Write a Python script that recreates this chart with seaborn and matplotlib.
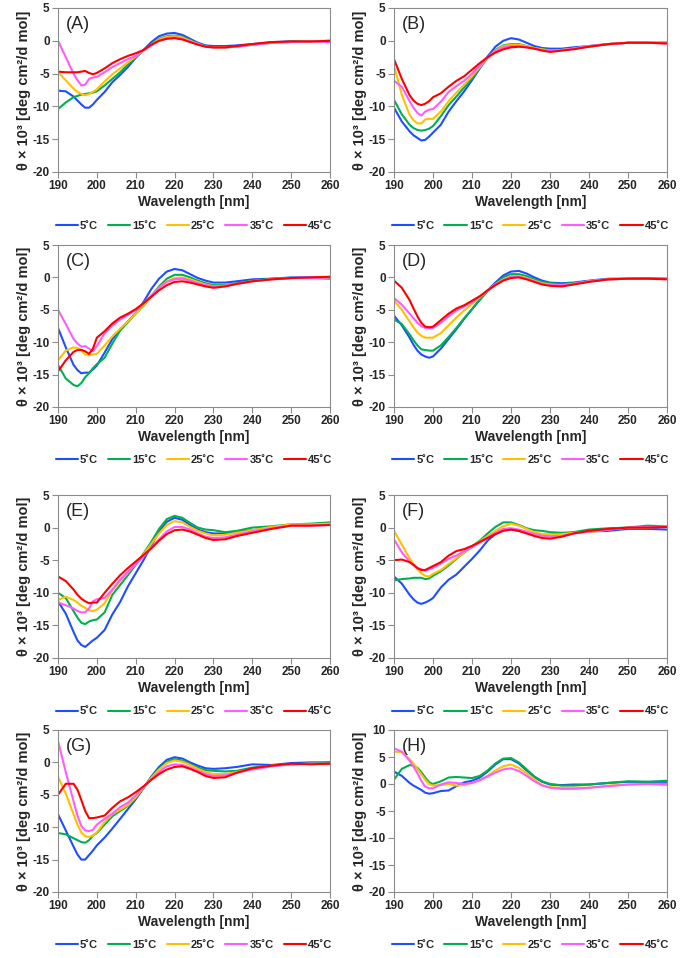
import pandas as pd
import matplotlib.pyplot as plt
from matplotlib.lines import Line2D
import seaborn as sns

sns.set_theme(style='white')
plt.rcParams['font.family'] = ['Liberation Sans', 'DejaVu Sans']
plt.rcParams['font.weight'] = 'bold'
plt.rcParams['axes.unicode_minus'] = False

# wavelength grid (nm)
wl = [190, 192, 194, 195, 196, 197, 198, 199, 200, 202, 204, 206, 208, 210, 212, 214,
      216, 218, 220, 222, 224, 226, 228, 230, 233, 236, 240, 245, 250, 255, 260]

temps = ['5˚C', '15˚C', '25˚C', '35˚C', '45˚C']
colors = ['#1F4EFF', '#00B050', '#FFC000', '#FF5CFF', '#FF0000']

# (A)
A_05 = [-7.6, -7.7, -8.5, -9.1, -9.7, -10.2, -10.2, -9.7, -9.0, -7.8, -6.3, -5.2, -4.0, -2.6, -1.4, -0.2, 0.7, 1.1, 1.2, 0.9, 0.3, -0.3, -0.7, -0.8, -0.8, -0.7, -0.5, -0.2, -0.1, -0.1, 0.0]
A_15 = [-10.4, -9.4, -8.6, -8.4, -8.2, -8.1, -8.0, -7.9, -7.7, -6.8, -5.8, -4.8, -3.6, -2.5, -1.5, -0.5, 0.3, 0.7, 0.8, 0.6, 0.1, -0.4, -0.8, -1.0, -1.0, -0.9, -0.6, -0.3, -0.1, -0.1, -0.1]
A_25 = [-4.8, -6.0, -7.3, -7.8, -8.1, -8.3, -8.1, -7.8, -7.4, -6.2, -5.1, -4.2, -3.3, -2.4, -1.5, -0.6, 0.2, 0.6, 0.7, 0.5, 0.0, -0.5, -0.9, -1.0, -1.0, -0.9, -0.6, -0.3, -0.2, -0.1, -0.1]
A_35 = [0.0, -2.5, -5.0, -6.0, -6.8, -6.7, -5.8, -5.6, -5.5, -4.8, -4.0, -3.4, -2.8, -2.3, -1.5, -0.7, 0.0, 0.4, 0.5, 0.3, -0.1, -0.5, -0.9, -1.0, -1.0, -0.9, -0.6, -0.3, -0.2, -0.1, -0.2]
A_45 = [-4.7, -4.8, -4.8, -4.8, -4.7, -4.6, -4.9, -5.1, -4.9, -4.2, -3.4, -2.8, -2.3, -1.9, -1.4, -0.6, 0.0, 0.3, 0.4, 0.2, -0.2, -0.6, -0.9, -1.0, -1.0, -0.8, -0.5, -0.2, -0.1, -0.1, 0.0]

# (B)
B_05 = [-10.2, -12.3, -13.8, -14.4, -14.8, -15.2, -15.1, -14.6, -14.0, -12.8, -10.8, -9.2, -7.7, -6.0, -4.2, -2.4, -0.9, 0.0, 0.4, 0.2, -0.3, -0.8, -1.1, -1.2, -1.2, -1.0, -0.8, -0.5, -0.3, -0.3, -0.3]
B_15 = [-9.0, -11.2, -12.8, -13.3, -13.6, -13.7, -13.6, -13.4, -13.0, -11.5, -9.8, -8.5, -7.1, -5.7, -4.1, -2.6, -1.4, -0.7, -0.5, -0.5, -0.8, -1.1, -1.3, -1.4, -1.4, -1.2, -0.9, -0.5, -0.3, -0.3, -0.3]
B_25 = [-3.8, -8.2, -11.3, -12.1, -12.6, -12.6, -12.0, -11.9, -11.9, -10.8, -9.2, -7.9, -6.7, -5.4, -4.0, -2.6, -1.5, -0.8, -0.6, -0.6, -0.8, -1.1, -1.3, -1.5, -1.4, -1.2, -0.8, -0.5, -0.3, -0.3, -0.4]
B_35 = [-6.1, -7.0, -9.2, -10.2, -11.0, -11.4, -10.8, -10.5, -10.4, -9.3, -7.8, -6.9, -6.1, -5.0, -3.8, -2.6, -1.6, -1.0, -0.8, -0.8, -1.0, -1.2, -1.4, -1.5, -1.4, -1.2, -0.8, -0.5, -0.3, -0.3, -0.4]
B_45 = [-2.8, -5.8, -8.3, -9.1, -9.6, -9.8, -9.6, -9.2, -8.6, -8.0, -7.0, -6.1, -5.4, -4.4, -3.4, -2.5, -1.8, -1.3, -1.0, -0.9, -1.0, -1.2, -1.5, -1.7, -1.5, -1.3, -0.9, -0.5, -0.3, -0.3, -0.4]

# (C)
C_05 = [-7.8, -10.8, -13.5, -14.3, -14.8, -14.7, -14.7, -14.2, -13.6, -11.6, -9.5, -8.0, -6.8, -5.5, -3.8, -1.8, -0.2, 0.9, 1.3, 1.1, 0.5, -0.1, -0.5, -0.8, -0.8, -0.6, -0.3, -0.2, 0.0, 0.0, 0.0]
C_15 = [-13.5, -15.6, -16.6, -16.8, -16.3, -15.4, -14.8, -14.0, -13.4, -12.4, -10.2, -8.2, -6.9, -5.6, -4.4, -2.9, -1.4, -0.2, 0.4, 0.4, 0.0, -0.5, -0.9, -1.2, -1.2, -0.9, -0.5, -0.2, -0.1, -0.1, -0.2]
C_25 = [-12.8, -11.3, -10.8, -10.9, -11.2, -11.9, -12.0, -11.9, -11.8, -10.5, -9.1, -7.9, -6.8, -5.6, -4.3, -2.9, -1.6, -0.6, -0.1, 0.0, -0.3, -0.7, -1.1, -1.4, -1.3, -1.0, -0.6, -0.3, -0.1, -0.1, 0.0]
C_35 = [-5.0, -7.2, -9.5, -10.2, -10.7, -10.6, -11.0, -11.4, -10.6, -8.6, -7.4, -6.5, -5.8, -5.0, -4.0, -2.8, -1.6, -0.7, -0.3, -0.2, -0.5, -0.9, -1.2, -1.4, -1.3, -1.0, -0.6, -0.3, -0.1, -0.1, 0.0]
C_45 = [-14.5, -12.8, -11.5, -11.2, -11.2, -11.4, -11.8, -11.0, -9.3, -8.3, -7.1, -6.2, -5.6, -4.9, -4.0, -3.0, -2.0, -1.2, -0.7, -0.6, -0.8, -1.1, -1.4, -1.6, -1.4, -1.0, -0.6, -0.3, -0.1, 0.0, 0.1]

# (D)
D_05 = [-5.9, -7.4, -9.3, -10.4, -11.3, -11.9, -12.2, -12.4, -12.2, -11.0, -9.5, -8.0, -6.4, -4.9, -3.4, -2.0, -0.8, 0.3, 0.9, 1.0, 0.6, 0.0, -0.5, -0.8, -0.9, -0.8, -0.5, -0.2, -0.2, -0.1, -0.2]
D_15 = [-6.5, -7.2, -8.8, -9.7, -10.5, -11.1, -11.2, -11.3, -11.3, -10.5, -9.2, -7.8, -6.3, -4.9, -3.5, -2.1, -1.0, 0.0, 0.5, 0.5, 0.2, -0.3, -0.7, -0.9, -1.0, -0.9, -0.6, -0.3, -0.2, -0.2, -0.2]
D_25 = [-3.6, -5.0, -6.8, -7.7, -8.5, -9.0, -9.3, -9.3, -9.3, -8.6, -7.4, -6.2, -5.1, -4.1, -3.1, -2.0, -1.1, -0.3, 0.2, 0.2, -0.1, -0.5, -0.9, -1.1, -1.2, -1.0, -0.6, -0.3, -0.2, -0.2, -0.2]
D_35 = [-3.2, -4.2, -5.6, -6.3, -7.0, -7.5, -7.8, -7.9, -7.8, -7.0, -6.0, -5.1, -4.5, -3.8, -3.0, -2.0, -1.1, -0.4, 0.1, 0.1, -0.2, -0.6, -1.0, -1.2, -1.2, -1.0, -0.6, -0.3, -0.2, -0.2, -0.2]
D_45 = [-0.5, -1.6, -3.5, -4.8, -6.0, -7.0, -7.6, -7.7, -7.6, -6.6, -5.6, -4.8, -4.3, -3.6, -2.9, -2.0, -1.2, -0.5, -0.1, 0.0, -0.3, -0.7, -1.1, -1.3, -1.4, -1.1, -0.7, -0.3, -0.2, -0.2, -0.3]

# (E)
E_05 = [-11.3, -13.2, -16.0, -17.3, -18.0, -18.3, -17.8, -17.3, -16.9, -15.7, -13.3, -11.4, -9.0, -7.0, -5.0, -2.8, -0.6, 0.9, 1.5, 1.2, 0.4, -0.3, -0.7, -0.9, -0.9, -0.6, -0.4, 0.0, 0.4, 0.4, 0.6]
E_15 = [-10.0, -10.8, -12.8, -13.8, -14.6, -14.8, -14.4, -14.2, -14.1, -13.0, -10.3, -8.8, -7.3, -5.7, -4.0, -2.2, -0.2, 1.3, 1.8, 1.5, 0.7, 0.0, -0.3, -0.4, -0.7, -0.5, 0.0, 0.2, 0.5, 0.6, 0.8]
E_25 = [-11.1, -10.6, -11.1, -11.5, -12.0, -12.3, -12.7, -12.8, -12.6, -11.6, -9.6, -8.2, -6.9, -5.5, -4.1, -2.5, -0.9, 0.4, 1.0, 0.8, 0.1, -0.5, -0.9, -1.2, -1.1, -0.8, -0.4, 0.1, 0.5, 0.5, 0.6]
E_35 = [-11.5, -11.9, -12.4, -12.8, -13.0, -13.0, -12.4, -11.3, -11.0, -10.8, -9.5, -8.0, -6.8, -5.6, -4.4, -3.1, -1.8, -0.6, 0.1, 0.1, -0.3, -0.9, -1.4, -1.6, -1.5, -1.1, -0.6, -0.1, 0.3, 0.3, 0.4]
E_45 = [-7.5, -8.2, -9.5, -10.3, -10.9, -11.3, -11.6, -11.5, -11.5, -10.0, -8.6, -7.3, -6.2, -5.2, -4.2, -3.2, -2.0, -1.0, -0.4, -0.3, -0.6, -1.1, -1.6, -1.9, -1.8, -1.3, -0.8, -0.2, 0.3, 0.3, 0.4]

# (F)
F_05 = [-7.5, -8.6, -10.3, -11.0, -11.5, -11.7, -11.5, -11.2, -10.8, -9.2, -8.0, -7.2, -6.0, -4.8, -3.5, -2.0, -1.0, -0.4, -0.3, -0.5, -0.8, -1.0, -1.1, -1.1, -1.0, -0.8, -0.6, -0.5, -0.2, -0.2, -0.3]
F_15 = [-8.1, -7.9, -7.8, -7.7, -7.7, -7.7, -7.9, -7.8, -7.4, -6.7, -5.8, -4.8, -3.8, -2.9, -2.0, -0.9, 0.1, 0.8, 0.8, 0.4, -0.1, -0.4, -0.5, -0.7, -0.8, -0.7, -0.3, -0.1, 0.0, 0.3, 0.2]
F_25 = [-0.5, -2.6, -4.7, -5.6, -6.4, -7.0, -7.4, -7.5, -7.1, -6.5, -5.6, -4.7, -3.8, -3.0, -2.1, -1.3, -0.5, 0.2, 0.6, 0.3, -0.2, -0.7, -1.0, -1.1, -1.0, -0.8, -0.7, -0.3, 0.0, 0.0, 0.2]
F_35 = [-1.8, -3.8, -5.2, -5.8, -6.2, -6.4, -6.6, -6.4, -6.2, -5.5, -4.8, -4.3, -3.6, -3.0, -2.3, -1.5, -0.8, -0.2, -0.1, -0.3, -0.6, -1.0, -1.3, -1.4, -1.3, -0.9, -0.6, -0.3, 0.0, 0.1, 0.1]
F_45 = [-5.0, -4.9, -5.3, -5.7, -6.2, -6.5, -6.5, -6.2, -5.9, -5.3, -4.3, -3.6, -3.3, -2.8, -2.2, -1.6, -1.0, -0.5, -0.3, -0.5, -0.9, -1.3, -1.6, -1.7, -1.4, -0.9, -0.5, -0.2, 0.0, 0.0, 0.1]

# (G)
G_05 = [-8.0, -10.5, -13.0, -14.2, -15.0, -15.0, -14.3, -13.6, -12.8, -11.6, -10.2, -8.7, -7.2, -5.7, -4.0, -2.2, -0.7, 0.4, 0.8, 0.6, 0.0, -0.5, -0.9, -1.0, -0.9, -0.7, -0.3, -0.4, -0.1, 0.0, 0.0]
G_15 = [-10.9, -11.1, -11.7, -12.0, -12.3, -12.4, -12.0, -11.3, -10.9, -9.6, -8.3, -7.5, -6.7, -5.5, -3.9, -2.3, -1.0, 0.1, 0.5, 0.3, -0.3, -0.8, -1.2, -1.3, -1.4, -1.3, -0.8, -0.5, -0.3, -0.2, 0.0]
G_25 = [-2.2, -4.8, -8.0, -9.6, -10.8, -11.4, -11.5, -11.3, -10.8, -9.2, -8.0, -7.3, -6.6, -5.4, -3.9, -2.4, -1.1, -0.1, 0.3, 0.1, -0.4, -1.0, -1.5, -1.8, -1.8, -1.5, -1.0, -0.5, -0.3, -0.2, -0.3]
G_35 = [3.3, -1.5, -6.0, -8.2, -9.8, -10.5, -10.6, -10.4, -9.6, -8.7, -7.9, -6.9, -6.2, -5.1, -3.8, -2.6, -1.5, -0.6, -0.3, -0.4, -0.8, -1.3, -1.8, -2.1, -2.0, -1.6, -1.1, -0.6, -0.3, -0.2, -0.2]
G_45 = [-5.0, -3.3, -3.3, -4.2, -5.8, -7.5, -8.6, -8.6, -8.5, -8.2, -7.0, -6.0, -5.4, -4.6, -3.7, -2.7, -1.8, -1.1, -0.7, -0.6, -1.0, -1.5, -2.1, -2.4, -2.3, -1.6, -0.9, -0.5, -0.2, -0.3, -0.2]

# (H)  no 45 C trace in this panel
H_05 = [2.3, 1.5, 0.2, -0.3, -0.7, -1.1, -1.6, -1.8, -1.7, -1.3, -1.2, -0.4, 0.3, 0.6, 1.2, 2.3, 3.6, 4.6, 4.6, 3.8, 2.5, 1.3, 0.4, -0.1, -0.2, -0.1, -0.1, 0.2, 0.4, 0.4, 0.4]
H_15 = [0.8, 2.8, 3.5, 3.4, 3.0, 2.2, 1.2, 0.3, 0.0, 0.5, 1.2, 1.3, 1.2, 1.1, 1.5, 2.5, 3.8, 4.7, 4.8, 4.0, 2.7, 1.4, 0.5, 0.0, -0.3, -0.3, -0.1, 0.2, 0.5, 0.4, 0.6]
H_25 = [6.0, 5.9, 4.6, 3.8, 2.8, 1.8, 0.8, 0.0, -0.3, -0.2, 0.0, -0.3, -0.2, 0.2, 0.7, 1.5, 2.5, 3.3, 3.6, 3.0, 2.0, 0.8, -0.2, -0.6, -0.7, -0.7, -0.7, -0.3, -0.1, 0.0, -0.2]
H_35 = [6.6, 6.0, 4.3, 3.2, 2.0, 0.6, -0.5, -0.8, -0.8, -0.1, 0.3, 0.2, 0.0, 0.2, 0.7, 1.4, 2.1, 2.7, 2.9, 2.4, 1.5, 0.5, -0.3, -0.7, -0.9, -0.9, -0.7, -0.4, -0.1, 0.0, 0.0]

panels = {
    'A': [A_05, A_15, A_25, A_35, A_45],
    'B': [B_05, B_15, B_25, B_35, B_45],
    'C': [C_05, C_15, C_25, C_35, C_45],
    'D': [D_05, D_15, D_25, D_35, D_45],
    'E': [E_05, E_15, E_25, E_35, E_45],
    'F': [F_05, F_15, F_25, F_35, F_45],
    'G': [G_05, G_15, G_25, G_35, G_45],
    'H': [H_05, H_15, H_25, H_35],
}

W, H = 685, 958
fig = plt.figure(figsize=(W / 100, H / 100), dpi=100)

rows = [(8, 172), (245, 407), (495, 658), (730, 892)]
cols = [(58, 330), (394, 667)]
gray = '#8c8c8c'
pal = dict(zip(temps, colors))

for i, (key, series) in enumerate(panels.items()):
    top, bot = rows[i // 2]
    left, right = cols[i % 2]
    ax = fig.add_axes([left / W, 1 - bot / H, (right - left) / W, (bot - top) / H])

    df = pd.DataFrame({
        'wl': wl * len(series),
        'cd': [v for s in series for v in s],
        'temp': [t for t, s in zip(temps, series) for _ in s],
    })
    sns.lineplot(data=df, x='wl', y='cd', hue='temp', hue_order=temps[:len(series)],
                 palette=pal, ax=ax, legend=False, lw=1.5, errorbar=None)

    ax.set_xlim(190, 260)
    ax.set_xticks(range(190, 261, 10))
    if key == 'H':
        ax.set_ylim(-20, 10)
        ax.set_yticks(range(-20, 11, 5))
    else:
        ax.set_ylim(-20, 5)
        ax.set_yticks(range(-20, 6, 5))

    for sp in ax.spines.values():
        sp.set_color(gray)
        sp.set_linewidth(0.8)
    ax.tick_params(bottom=True, left=True, direction='out', length=4, width=0.8,
                   color=gray, labelsize=8.5, pad=2)
    for lab in ax.get_xticklabels() + ax.get_yticklabels():
        lab.set_fontweight('bold')

    ax.set_xlabel('Wavelength [nm]', fontsize=10, fontweight='bold', labelpad=2)
    ax.set_ylabel('θ × 10³ [deg cm²/d mol]', fontsize=10.5, fontweight='bold', labelpad=1)
    ax.text(0.03, 0.95, f'({key})', transform=ax.transAxes, va='top', ha='left',
            fontsize=13, fontweight='normal')

    handles = [Line2D([], [], color=c, lw=1.5) for c in colors]
    ax.legend(handles, temps, loc='upper center', bbox_to_anchor=(0.5, -0.27), ncol=5,
              frameon=False, handlelength=2.0, handletextpad=0.2,
              columnspacing=0.9, borderaxespad=0, prop={'weight': 'bold', 'size': 8})

fig.savefig('out.png', dpi=100)
